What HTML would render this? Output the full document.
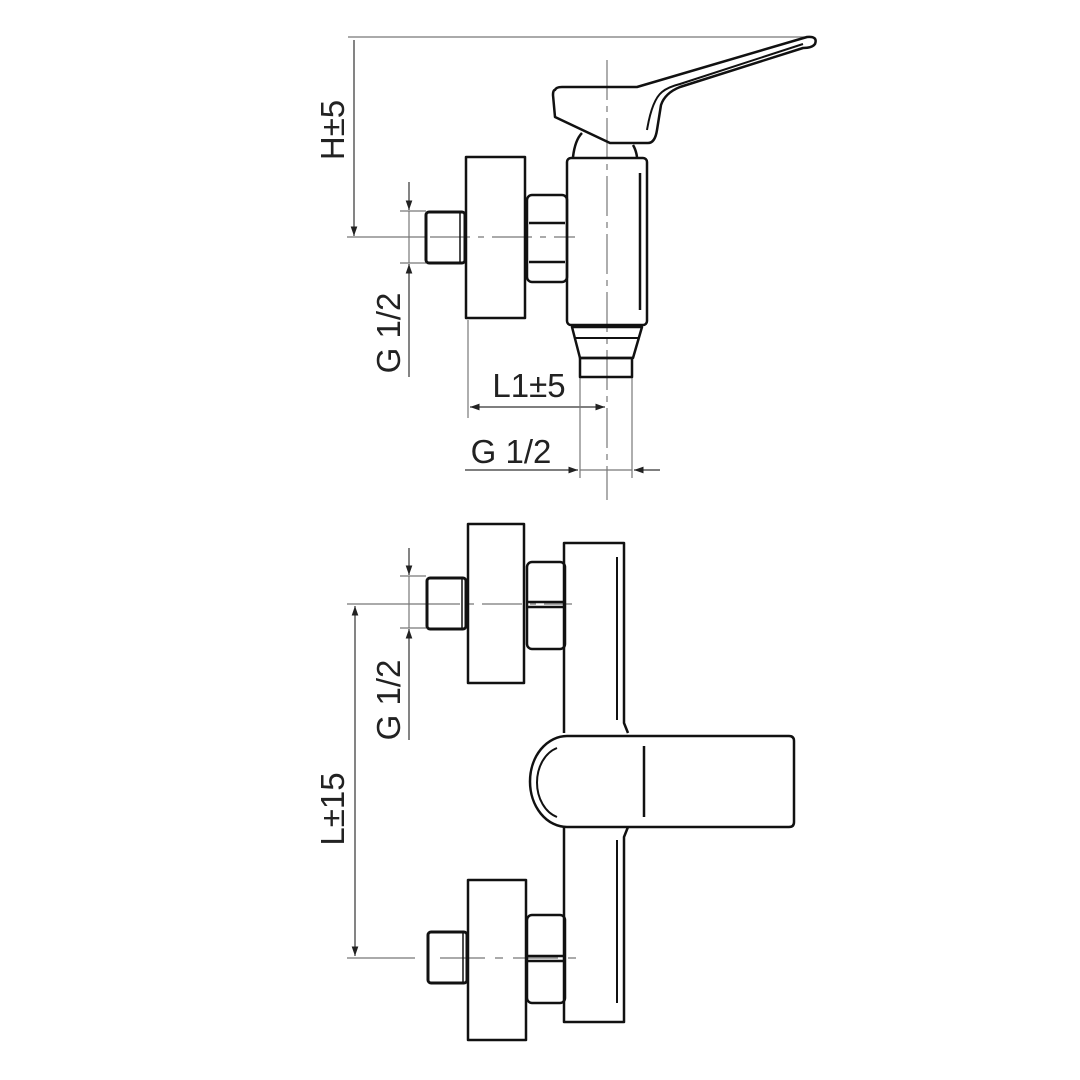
<!DOCTYPE html>
<html><head><meta charset="utf-8"><style>html,body{margin:0;padding:0;background:#fff}svg{display:block}</style></head>
<body>
<svg width="1080" height="1080" viewBox="0 0 1080 1080" xmlns="http://www.w3.org/2000/svg">
<defs>
<marker id="a" viewBox="0 0 10 10" refX="10" refY="5" markerWidth="8" markerHeight="8" orient="auto-start-reverse"><path d="M0,1.5 L10,5 L0,8.5 z" fill="#222"/></marker>
</defs>
<g fill="none" stroke="#777" stroke-width="1.2">
<!-- top view dims -->
<line x1="348" y1="37" x2="805" y2="37"/>
<line x1="354" y1="40" x2="354" y2="236" stroke="#333" marker-end="url(#a)"/>
<line x1="347" y1="237" x2="425" y2="237"/>
<line x1="400" y1="211" x2="426" y2="211"/>
<line x1="400" y1="263" x2="426" y2="263"/>
<line x1="409" y1="182" x2="409" y2="210" stroke="#333" marker-end="url(#a)"/>
<line x1="409" y1="377" x2="409" y2="264" stroke="#333" marker-end="url(#a)"/>
<line x1="409" y1="211" x2="409" y2="263"/>
<line x1="468" y1="320" x2="468" y2="418"/>
<line x1="470" y1="407" x2="605" y2="407" stroke="#333" marker-start="url(#a)" marker-end="url(#a)"/>
<line x1="580" y1="358" x2="580" y2="478"/>
<line x1="632" y1="358" x2="632" y2="478"/>
<line x1="465" y1="470" x2="578" y2="470" stroke="#333" marker-end="url(#a)"/>
<line x1="660" y1="470" x2="634" y2="470" stroke="#333" marker-end="url(#a)"/>
<line x1="580" y1="470" x2="632" y2="470"/>
<!-- center lines -->
<line x1="607" y1="60" x2="607" y2="500" stroke-dasharray="40,6,6,6"/>
<line x1="430" y1="237" x2="575" y2="237" stroke-dasharray="40,8,6,8"/>
<!-- bottom view dims -->
<line x1="400" y1="576" x2="426" y2="576"/>
<line x1="400" y1="628" x2="426" y2="628"/>
<line x1="409" y1="548" x2="409" y2="575" stroke="#333" marker-end="url(#a)"/>
<line x1="409" y1="740" x2="409" y2="629" stroke="#333" marker-end="url(#a)"/>
<line x1="409" y1="576" x2="409" y2="628"/>
<line x1="347" y1="604" x2="420" y2="604"/>
<line x1="347" y1="958" x2="415" y2="958"/>
<line x1="355" y1="606" x2="355" y2="956" stroke="#333" marker-start="url(#a)" marker-end="url(#a)"/>
<line x1="420" y1="604" x2="572" y2="604" stroke-dasharray="40,8,6,8"/>
<line x1="440" y1="958" x2="585" y2="958" stroke-dasharray="45,10,8,10"/>
</g>
<g fill="none" stroke="#111" stroke-width="2.5" stroke-linejoin="round">
<!-- top view -->
<path d="M555,90 Q556,87 562,87 L637,87 L807,37 Q818,36 815,44 Q812,48 803,48 L680,87 Q665,93 661,105 L657,130 Q655,143 648,143 L610,143 L555,117 L553,95 Q553,90 555,90 Z"/>
<path d="M647,130 Q652,100 662,92 Q668,87 680,84 L803,44" stroke-width="2"/>
<path d="M573,157 Q575,140 582,133"/>
<path d="M637,157 Q636,150 633,145"/>
<rect x="567" y="158" width="80" height="167" rx="4"/>
<line x1="640" y1="173" x2="640" y2="310"/>
<path d="M572,327 L642,327 L633,358 L580,358 Z"/>
<line x1="575" y1="338" x2="639" y2="338" stroke-width="2"/>
<rect x="580" y="358" width="52" height="19"/>
<rect x="466" y="157" width="59" height="161"/>
<rect x="527" y="195" width="40" height="87" rx="5"/>
<line x1="529" y1="223" x2="565" y2="223"/>
<line x1="529" y1="262" x2="565" y2="262"/>
<rect x="426" y="212" width="39" height="51" rx="3" stroke-width="3"/>
<line x1="460" y1="213" x2="460" y2="262" stroke-width="1.5"/>
<!-- bottom view -->
<path d="M564,733 L564,543 L624,543 L624,723 L628,733"/>
<path d="M564,827 L564,1022 L624,1022 L624,837 L628,827"/>
<line x1="617" y1="557" x2="617" y2="720" stroke-width="2"/>
<line x1="617" y1="840" x2="617" y2="1003" stroke-width="2"/>
<path d="M567,736 L789,736 Q794,736 794,741 L794,822 Q794,827 789,827 L567,827 A37,45.5 0 0 1 567,736 Z"/>
<path d="M557,748 A28,36 0 0 0 557,817" stroke-width="2"/>
<line x1="644" y1="746" x2="644" y2="817"/>
<rect x="468" y="524" width="56" height="159"/>
<rect x="527" y="562" width="38" height="87" rx="5"/>
<line x1="528" y1="602" x2="564" y2="602"/>
<line x1="528" y1="607" x2="564" y2="607"/>
<rect x="427" y="578" width="39" height="51" rx="3" stroke-width="3"/>
<line x1="462" y1="579" x2="462" y2="628" stroke-width="1.5"/>
<rect x="468" y="880" width="58" height="160"/>
<rect x="527" y="915" width="38" height="88" rx="5"/>
<line x1="528" y1="956" x2="564" y2="956"/>
<line x1="528" y1="961" x2="564" y2="961"/>
<rect x="428" y="932" width="39" height="51" rx="3" stroke-width="3"/>
<line x1="463" y1="933" x2="463" y2="982" stroke-width="1.5"/>
</g>
<g font-family="Liberation Sans, sans-serif" font-size="33" fill="#222" text-anchor="middle">
<text transform="translate(344,130) rotate(-90)">H±5</text>
<text transform="translate(400,333) rotate(-90)">G 1/2</text>
<text x="529" y="397">L1±5</text>
<text x="511" y="463">G 1/2</text>
<text transform="translate(400,700) rotate(-90)">G 1/2</text>
<text transform="translate(344,809) rotate(-90)">L±15</text>
</g>
</svg>
</body></html>
